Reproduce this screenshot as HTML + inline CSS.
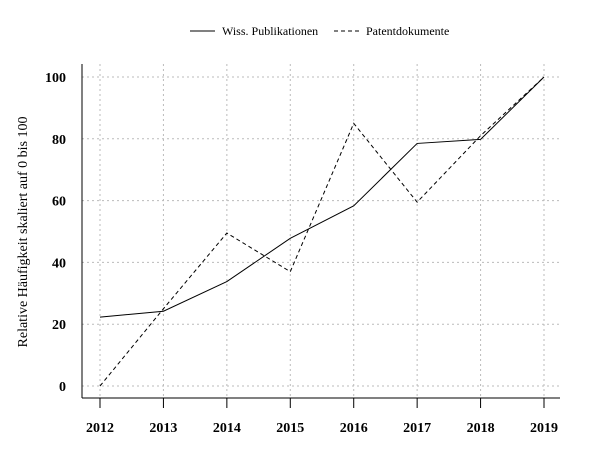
<!DOCTYPE html>
<html><head><meta charset="utf-8"><style>
body{margin:0;background:#fff;}
text{font-family:"Liberation Serif",serif;fill:#000;}
</style></head><body>
<svg id="chart" width="600" height="450">
<g id="grid"></g>
<g id="axes"></g>
<g id="series"></g>
<g>
<line x1="190" y1="31" x2="215" y2="31" stroke="#000"/>
<text x="222" y="35" font-size="12">Wiss. Publikationen</text>
<line x1="334" y1="31" x2="359" y2="31" stroke="#000" stroke-dasharray="4,3"/>
<text x="366" y="35" font-size="12">Patentdokumente</text>
</g>
<text transform="translate(27,232) rotate(-90)" text-anchor="middle" font-size="14">Relative Häufigkeit skaliert auf 0 bis 100</text>
</svg>
<script>
const years=[2012,2013,2014,2015,2016,2017,2018,2019];
const publikationen=[22.3,24.2,33.8,47.8,58.3,78.5,79.8,100];
const patente=[0,25,49.5,37,85,59.5,81,100];
const yTicks=[0,20,40,60,80,100];
const NS="http://www.w3.org/2000/svg";
const xS=y=>100+(y-2012)*(544-100)/7;
const yS=v=>386-v*(386-77)/100;
function mk(tag,attrs,parent){const e=document.createElementNS(NS,tag);for(const k in attrs)e.setAttribute(k,attrs[k]);document.getElementById(parent).appendChild(e);return e;}
years.forEach(y=>{
 const g=mk('line',{x1:xS(y),x2:xS(y),y1:64,y2:398,stroke:'#bbb','stroke-dasharray':'2,3'},'grid');
 
 
 const t=mk('line',{x1:xS(y),x2:xS(y),y1:398,y2:408,stroke:'#000'},'axes');
 
 
 const l=mk('text',{x:xS(y),y:432,'text-anchor':'middle','font-size':'14','font-weight':'bold'},'axes');
 l.textContent=y;
 
 
});
yTicks.forEach(v=>{
 const g=mk('line',{x1:82,x2:560,y1:yS(v),y2:yS(v),stroke:'#bbb','stroke-dasharray':'2,3'},'grid');
 
 
 const l=mk('text',{x:66,y:yS(v)+5,'text-anchor':'end','font-size':'14','font-weight':'bold'},'axes');
 l.textContent=v;
 
 
});
const ya=mk('line',{x1:82,x2:82,y1:64,y2:398,stroke:'#000'},'axes');


const xa=mk('line',{x1:82,x2:560,y1:398,y2:398,stroke:'#000'},'axes');


const p1=mk('polyline',{points:years.map((y,i)=>xS(y)+','+yS(publikationen[i])).join(' '),fill:'none',stroke:'#000'},'series');


const p2=mk('polyline',{points:years.map((y,i)=>xS(y)+','+yS(patente[i])).join(' '),fill:'none',stroke:'#000','stroke-dasharray':'4,3'},'series');


</script>
</body></html>
